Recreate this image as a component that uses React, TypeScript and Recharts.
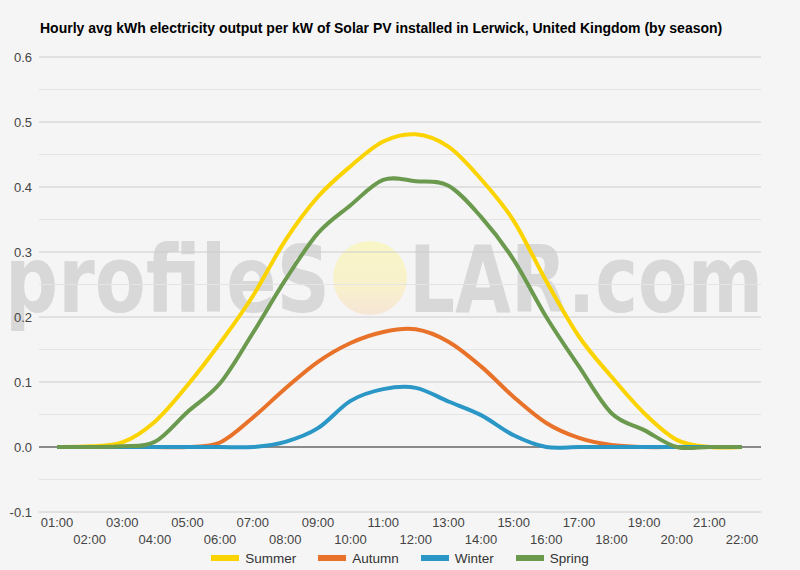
import { LineChart, Line, XAxis, YAxis, CartesianGrid, ReferenceLine, Legend } from 'recharts';

const hours = [
  '01:00', '02:00', '03:00', '04:00', '05:00', '06:00', '07:00', '08:00', '09:00', '10:00', '11:00',
  '12:00', '13:00', '14:00', '15:00', '16:00', '17:00', '18:00', '19:00', '20:00', '21:00', '22:00',
];
const summer = [0, 0.001, 0.007, 0.039, 0.095, 0.16, 0.232, 0.318, 0.385, 0.432, 0.47, 0.481, 0.462, 0.412, 0.348, 0.255, 0.17, 0.108, 0.052, 0.011, 0, 0];
const autumn = [0, 0, 0, 0, 0, 0.007, 0.045, 0.09, 0.131, 0.16, 0.177, 0.181, 0.162, 0.124, 0.077, 0.037, 0.014, 0.003, 0, 0, 0, 0];
const winter = [0, 0, 0, 0, 0, 0, 0, 0.008, 0.029, 0.071, 0.089, 0.091, 0.07, 0.049, 0.018, 0, 0, 0, 0, 0, 0, 0];
const spring = [0, 0, 0.001, 0.008, 0.054, 0.098, 0.175, 0.257, 0.329, 0.372, 0.411, 0.409, 0.402, 0.354, 0.288, 0.2, 0.124, 0.052, 0.026, 0, 0, 0];

const yTicks = [-0.1, 0, 0.1, 0.2, 0.3, 0.4, 0.5, 0.6];
const minorTicks = [-0.05, 0.05, 0.15, 0.25, 0.35, 0.45, 0.55];

const series = [
  { key: 'Summer', color: '#FBD300' },
  { key: 'Autumn', color: '#E8722A' },
  { key: 'Winter', color: '#2A97C6' },
  { key: 'Spring', color: '#6B9A4F' },
];

const data = hours.map((h, i) => ({
  hour: h,
  Summer: summer[i],
  Autumn: autumn[i],
  Winter: winter[i],
  Spring: spring[i],
}));

const FONT = '"Liberation Sans", Arial, sans-serif';

// catmull-rom style smoothing (like the "function" curve of the original)
function smoothCurve(context: any) {
  const k = 1 / 6;
  let x0 = NaN, x1 = NaN, x2 = NaN, y0 = NaN, y1 = NaN, y2 = NaN;
  let pt = 0;
  let line = NaN;
  const seg = (x: number, y: number) => {
    context.bezierCurveTo(x1 + k * (x2 - x0), y1 + k * (y2 - y0), x2 + k * (x1 - x), y2 + k * (y1 - y), x2, y2);
  };
  return {
    areaStart() { line = 0; },
    areaEnd() { line = NaN; },
    lineStart() {
      x0 = x1 = x2 = y0 = y1 = y2 = NaN;
      pt = 0;
    },
    lineEnd() {
      if (pt === 2) context.lineTo(x2, y2);
      else if (pt === 3) seg(x1, y1);
      if (line || (line !== 0 && pt === 1)) context.closePath();
      line = 1 - line;
    },
    point(x: number, y: number) {
      x = +x; y = +y;
      if (pt === 0) {
        pt = 1;
        if (line) context.lineTo(x, y); else context.moveTo(x, y);
      } else if (pt === 1) {
        pt = 2;
        x1 = x; y1 = y;
      } else {
        pt = 3;
        seg(x, y);
      }
      x0 = x1; x1 = x2; x2 = x;
      y0 = y1; y1 = y2; y2 = y;
    },
  };
}

// two staggered rows of hour labels
function HourTick(props: any) {
  const { x, y, payload, index } = props;
  return (
    <text x={x} y={y + (index % 2 ? 26 : 9)} textAnchor="middle" fontSize={13} fill="#444" fontFamily={FONT}>
      {payload.value}
    </text>
  );
}

function SeasonLegend() {
  return (
    <div style={{ display: 'flex', justifyContent: 'center', alignItems: 'center', height: 20, fontFamily: FONT, fontSize: 13.5, color: '#333' }}>
      {series.map((s) => (
        <div key={s.key} style={{ display: 'flex', alignItems: 'center', margin: '0 11px' }}>
          <span style={{ width: 28, height: 6, background: s.color, marginRight: 6 }} />
          <span>{s.key}</span>
        </div>
      ))}
    </div>
  );
}

export default function App() {
  return (
    <div style={{ position: 'fixed', left: 0, top: 0, width: 800, height: 570, background: '#f5f5f5', overflow: 'hidden' }}>
      <svg width={800} height={570} style={{ position: 'absolute', left: 0, top: 0 }}>
        <defs>
          <linearGradient id="sun" x1="0" y1="0" x2="0" y2="1">
            <stop offset="0%" stopColor="#f8f6c6" />
            <stop offset="60%" stopColor="#f8f1cc" />
            <stop offset="100%" stopColor="#f6e6d6" />
          </linearGradient>
        </defs>
        <text x={5} y={312} fontSize={92} fontWeight="bold" fill="#d8d8d8" fontFamily='"DejaVu Sans", sans-serif' textLength={325} lengthAdjust="spacingAndGlyphs">
          profileS
        </text>
        <circle cx={370} cy={278} r={37} fill="url(#sun)" />
        <text x={409} y={312} fontSize={92} fontWeight="bold" fill="#d8d8d8" fontFamily='"DejaVu Sans", sans-serif' textLength={354} lengthAdjust="spacingAndGlyphs">
          LAR.com
        </text>
      </svg>
      <div style={{ position: 'absolute', left: 40, top: 19, fontFamily: FONT, fontSize: 14, fontWeight: 'bold', color: '#000', lineHeight: '18px', whiteSpace: 'nowrap' }}>
        Hourly avg kWh electricity output per kW of Solar PV installed in Lerwick, United Kingdom (by season)
      </div>
      <div style={{ position: 'absolute', left: 0, top: 0 }}>
        <LineChart width={800} height={570} data={data} margin={{ top: 57, right: 39, left: 0, bottom: 2 }}>
          <CartesianGrid vertical={false} stroke="#cccccc" />
          {minorTicks.map((v) => (
            <ReferenceLine key={v} y={v} stroke="#e4e4e4" />
          ))}
          <ReferenceLine y={0} stroke="#333" />
          <XAxis
            dataKey="hour"
            interval={0}
            height={36}
            axisLine={false}
            tickLine={false}
            tickMargin={0}
            padding={{ left: 18, right: 19 }}
            tick={<HourTick />}
          />
          <YAxis
            width={39}
            domain={[-0.1, 0.6]}
            ticks={yTicks}
            axisLine={false}
            tickLine={false}
            tickMargin={1}
            tickFormatter={(v: number) => v.toFixed(1)}
            tick={{ fontSize: 13, fill: '#444', fontFamily: FONT }}
          />
          <Legend verticalAlign="bottom" content={<SeasonLegend />} wrapperStyle={{ left: 0, width: 800 }} />
          {series.map((s) => (
            <Line
              key={s.key}
              dataKey={s.key}
              type={smoothCurve as any}
              stroke={s.color}
              strokeWidth={4}
              dot={false}
              activeDot={false}
              isAnimationActive={false}
            />
          ))}
        </LineChart>
      </div>
    </div>
  );
}
